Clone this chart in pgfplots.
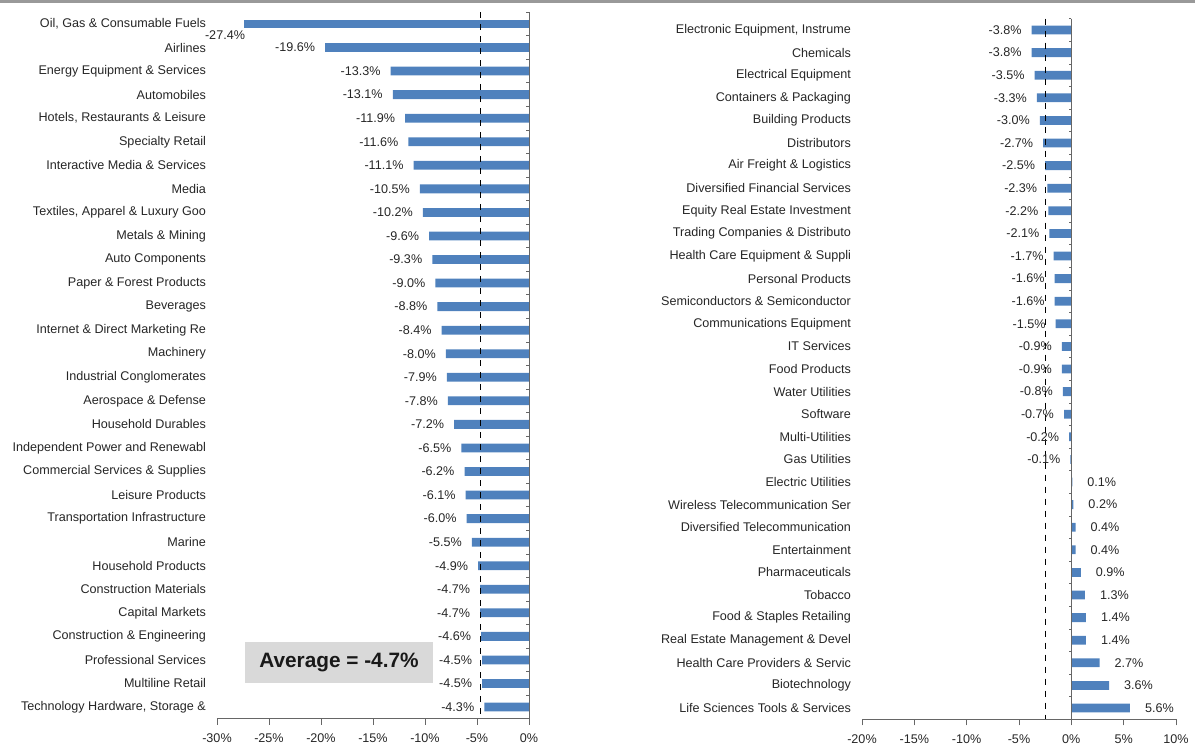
\documentclass[border=0pt]{standalone}
\usepackage{pgfplots}
\pgfplotsset{compat=1.18}
\usepackage{fontspec}
\setmainfont{Liberation Sans}
\definecolor{barblue}{HTML}{4F81BD}
\newcommand{\lblfont}{\fontsize{6.3}{7}\selectfont}
\pgfplotsset{mybars/.style={
  xbar, bar width=4.4pt, bar shift=0pt, y dir=reverse, scale only axis,
  enlarge y limits=false, clip=false,
  axis x line*=bottom, axis y line*=left,
  y axis line style={draw=none}, ytick style={draw=none},
  x axis line style={black!60}, xtick style={black!60},
  tick align=outside, major tick length=3pt,
  yticklabel style={font=\lblfont, text=black!85, xshift=1pt},
  xticklabel style={font=\lblfont, text=black!85, yshift=-1pt},
  /pgf/number format/assume math mode=true,
  xticklabel={\pgfmathprintnumber{\tick}\%},
  point meta=x,
  nodes near coords={\pgfmathprintnumber[fixed,fixed zerofill,precision=1,assume math mode=true]{\pgfplotspointmeta}\%},
  nodes near coords align=horizontal,
  every node near coord/.append style={font=\lblfont, text=black!85},
}}
\begin{document}
\begin{tikzpicture}
\useasboundingbox (0,0) rectangle (597.5pt,372pt);
\draw[black!40, line width=1.5pt] (0,371.3pt) -- (597.5pt,371.3pt);
% Left panel
\begin{axis}[mybars, at={(108.5pt,12.6pt)}, anchor=south west,
  width=156pt, height=353.3pt,
  xmin=-30, xmax=0, xtick={-30,-25,...,0},
  ymin=-0.5, ymax=29.5, ytick={0,...,29},
  yticklabels={{Oil, Gas \& Consumable Fuels},Airlines,{Energy Equipment \& Services},Automobiles,{Hotels, Restaurants \& Leisure},Specialty Retail,{Interactive Media \& Services},Media,{Textiles, Apparel \& Luxury Goo},{Metals \& Mining},Auto Components,{Paper \& Forest Products},Beverages,{Internet \& Direct Marketing Re},Machinery,Industrial Conglomerates,{Aerospace \& Defense},Household Durables,Independent Power and Renewabl,{Commercial Services \& Supplies},Leisure Products,Transportation Infrastructure,Marine,Household Products,Construction Materials,Capital Markets,{Construction \& Engineering},Professional Services,Multiline Retail,{Technology Hardware, Storage \&}},
]
\addplot[fill=barblue, draw=none, every node near coord/.append style={anchor=north east, xshift=4pt, yshift=0pt}] coordinates {(-27.4,0)};
\addplot[fill=barblue, draw=none, every node near coord/.append style={xshift=-1.5pt}] coordinates {
(-19.6,1) (-13.3,2) (-13.1,3) (-11.9,4) (-11.6,5) (-11.1,6) (-10.5,7) (-10.2,8) (-9.6,9) (-9.3,10)
(-9.0,11) (-8.8,12) (-8.4,13) (-8.0,14) (-7.9,15) (-7.8,16) (-7.2,17) (-6.5,18) (-6.2,19) (-6.1,20)
(-6.0,21) (-5.5,22) (-4.9,23) (-4.7,24) (-4.7,25) (-4.6,26) (-4.5,27) (-4.5,28) (-4.3,29)};
\draw[black!60] (axis cs:0,-0.5) -- (axis cs:0,29.5);
\pgfplotsinvokeforeach{-0.5,0.5,...,29.5}{\draw[black!60] (axis cs:0,#1) -- (axis cs:-0.25,#1);}
\draw[black, dashed, line width=0.6pt] (axis cs:-4.7,-0.5) -- (axis cs:-4.7,29.5);
\node[fill=black!15, minimum width=94pt, minimum height=20.5pt, inner sep=0pt,
  font=\bfseries\fontsize{10.4}{12}\selectfont, text=black!90] at (axis cs:-18.27,27.09) {Average = -4.7\%};
\end{axis}
% Right panel
\begin{axis}[mybars, at={(431pt,12.35pt)}, anchor=south west,
  width=157pt, height=350.3pt,
  xmin=-20, xmax=10, xtick={-20,-15,...,10},
  ymin=-0.5, ymax=30.5, ytick={0,...,30},
  yticklabels={{Electronic Equipment, Instrume},Chemicals,Electrical Equipment,{Containers \& Packaging},Building Products,Distributors,{Air Freight \& Logistics},Diversified Financial Services,Equity Real Estate Investment,{Trading Companies \& Distributo},{Health Care Equipment \& Suppli},Personal Products,{Semiconductors \& Semiconductor},Communications Equipment,IT Services,Food Products,Water Utilities,Software,Multi-Utilities,Gas Utilities,Electric Utilities,Wireless Telecommunication Ser,Diversified Telecommunication,Entertainment,Pharmaceuticals,Tobacco,{Food \& Staples Retailing},{Real Estate Management \& Devel},{Health Care Providers \& Servic},Biotechnology,{Life Sciences Tools \& Services}},
]
\addplot[fill=barblue, draw=none, every node near coord/.append style={xshift=-1.5pt}] coordinates {
(-3.8,0) (-3.8,1) (-3.5,2) (-3.3,3) (-3.0,4) (-2.7,5) (-2.5,6) (-2.3,7) (-2.2,8) (-2.1,9)
(-1.7,10) (-1.6,11) (-1.6,12) (-1.5,13) (-0.9,14) (-0.9,15) (-0.8,16) (-0.7,17) (-0.2,18) (-0.1,19)};
\addplot[fill=barblue, draw=none, every node near coord/.append style={xshift=4pt}] coordinates {
(0.1,20) (0.2,21) (0.4,22) (0.4,23) (0.9,24) (1.3,25) (1.4,26) (1.4,27) (2.7,28) (3.6,29) (5.6,30)};
\draw[black!60] (axis cs:0,-0.5) -- (axis cs:0,30.5);
\pgfplotsinvokeforeach{-0.5,0.5,...,30.5}{\draw[black!60] (axis cs:0,#1) -- (axis cs:-0.25,#1);}
\draw[black, dashed, line width=0.6pt] (axis cs:-2.5,-0.5) -- (axis cs:-2.5,30.5);
\end{axis}
\end{tikzpicture}
\end{document}
